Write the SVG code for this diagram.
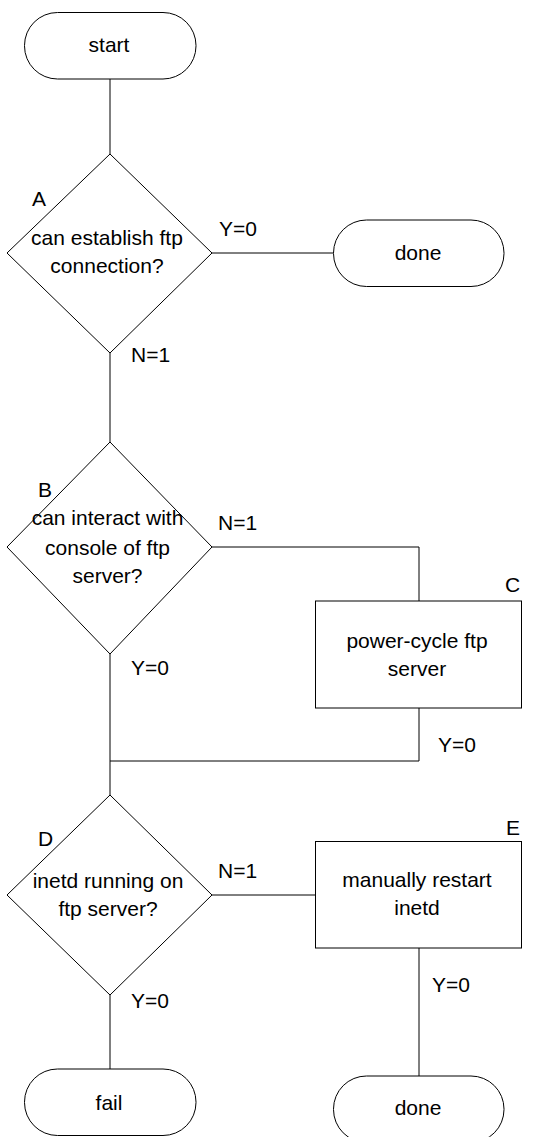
<svg xmlns="http://www.w3.org/2000/svg" width="543" height="1137" viewBox="0 0 543 1137">
<style>
.s{fill:#fff;stroke:#000;stroke-width:1}
.c{fill:none;stroke:#000;stroke-width:1}
text{font-family:"Liberation Sans",Arial,sans-serif;font-size:21px;fill:#000}
.m{text-anchor:middle}
</style>
<rect width="543" height="1137" fill="#fff"/>
<g id="connectors">
<path class="c" d="M110 79V154"/>
<path class="c" d="M212 253H333"/>
<path class="c" d="M110 353V442"/>
<path class="c" d="M212 547H419V601"/>
<path class="c" d="M419 708V761H110"/>
<path class="c" d="M110 654V795"/>
<path class="c" d="M212 895H316"/>
<path class="c" d="M110 995V1069"/>
<path class="c" d="M419 948V1076"/>
<text x="219" y="236">Y=0</text>
<text x="131" y="362">N=1</text>
<text x="218" y="530">N=1</text>
<text x="131" y="675">Y=0</text>
<text x="438" y="752">Y=0</text>
<text x="218" y="878">N=1</text>
<text x="131" y="1008">Y=0</text>
<text x="432" y="992">Y=0</text>
</g>
<g id="start">
<rect class="s" x="24.5" y="12.5" width="171.5" height="66.5" rx="33" ry="33"/>
<text class="m" x="109" y="52">start</text>
</g>
<g id="A">
<path class="s" d="M110 154L212 253L110 353L7 253Z"/>
<text x="32" y="206">A</text>
<text class="m" x="107" y="245">can establish ftp</text>
<text class="m" x="107" y="273">connection?</text>
</g>
<g id="done1">
<rect class="s" x="333.5" y="220" width="170.5" height="66.5" rx="33" ry="33"/>
<text class="m" x="418" y="260">done</text>
</g>
<g id="B">
<path class="s" d="M110 442L212 547L110 654L7 547Z"/>
<text x="38" y="497">B</text>
<text class="m" x="107.5" y="525">can interact with</text>
<text class="m" x="107.5" y="555">console of ftp</text>
<text class="m" x="107.5" y="583">server?</text>
</g>
<g id="C">
<rect class="s" x="315.5" y="601" width="206" height="107"/>
<text x="505" y="592">C</text>
<text class="m" x="417" y="648">power-cycle ftp</text>
<text class="m" x="417" y="676">server</text>
</g>
<g id="D">
<path class="s" d="M110 795L212 895L110 995L7 895Z"/>
<text x="38" y="846">D</text>
<text class="m" x="108" y="888">inetd running on</text>
<text class="m" x="108" y="916">ftp server?</text>
</g>
<g id="E">
<rect class="s" x="315.5" y="841.5" width="206" height="106.5"/>
<text x="506" y="835">E</text>
<text class="m" x="417" y="887">manually restart</text>
<text class="m" x="417" y="915">inetd</text>
</g>
<g id="fail">
<rect class="s" x="24.5" y="1069" width="171.5" height="66.5" rx="33" ry="33"/>
<text class="m" x="109" y="1110">fail</text>
</g>
<g id="done2">
<rect class="s" x="333.5" y="1076" width="170.5" height="66.5" rx="33" ry="33"/>
<text class="m" x="418" y="1115">done</text>
</g>
</svg>
